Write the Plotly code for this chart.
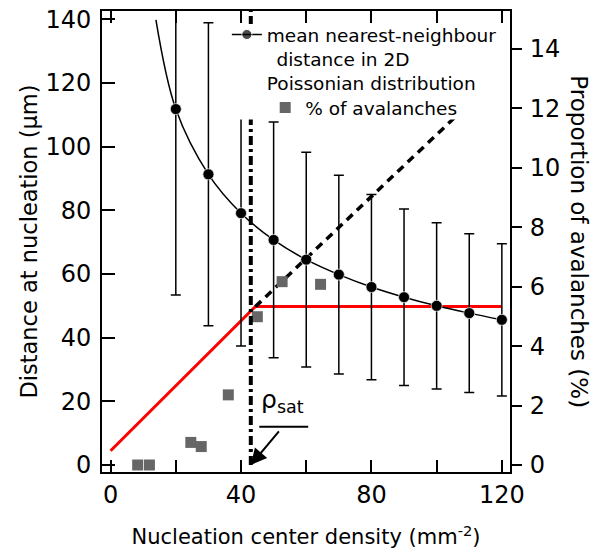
import plotly.graph_objects as go

# Mean nearest-neighbour distance (2D Poisson) at each nucleation density
density = [20, 30, 40, 50, 60, 70, 80, 90, 100, 110, 120]
nn_distance = [111.8, 91.3, 79.1, 70.7, 64.5, 59.8, 55.9, 52.7, 50.0, 47.7, 45.6]
nn_spread = [58.4, 47.6, 41.7, 37.0, 33.7, 31.2, 29.1, 27.7, 26.1, 24.9, 23.9]

# Smooth curve through the points, starting just below the top of the axis
curve_density = [13.9] + density
curve_distance = [139.8] + nn_distance

# Measured proportion of avalanches (%)
avalanche_density = [8.3, 11.9, 24.6, 27.8, 36.1, 45.0, 52.6, 64.4]
avalanche_percent = [0.0, 0.0, 0.76, 0.62, 2.36, 4.99, 6.17, 6.08]

# Saturation model (red) and its linear extrapolation (dashed)
model_density = [0, 44.4, 120]
model_percent = [0.48, 5.33, 5.33]
trend_density = [44.4, 120]
trend_percent = [5.33, 13.2]

rho_sat = 43.0

x_ticks = [0, 20, 40, 60, 80, 100, 120]
x_labels = ["0", "", "40", "", "80", "", "120"]
dist_ticks = [0, 20, 40, 60, 80, 100, 120, 140]
pct_ticks = [0, 2, 4, 6, 8, 10, 12, 14]

dist_range = [-2.2, 142.6]
pct_range = [v * 15 / 140 for v in dist_range]

FONT = "DejaVu Sans"

fig = go.Figure()

# Percent axis traces
fig.add_trace(go.Scatter(
    x=model_density, y=model_percent, yaxis="y", mode="lines",
    line=dict(color="#ff0000", width=3), showlegend=False, hoverinfo="skip"))
fig.add_trace(go.Scatter(
    x=trend_density, y=trend_percent, yaxis="y", mode="lines",
    line=dict(color="black", width=3.5, dash="8px,6px"), showlegend=False,
    hoverinfo="skip"))
fig.add_trace(go.Scatter(
    x=avalanche_density, y=avalanche_percent, yaxis="y", mode="markers",
    marker=dict(symbol="square", size=11, color="#666666"),
    name="% of avalanches", legend="legend2"))

# Saturation density: vertical dash-dot line
fig.add_trace(go.Scatter(
    x=[rho_sat, rho_sat], y=[0, dist_range[1]], yaxis="y2", mode="lines",
    line=dict(color="black", width=4, dash="9px,4px,3px,4px"),
    showlegend=False, hoverinfo="skip"))

# Distance axis traces
fig.add_trace(go.Scatter(
    x=density, y=nn_distance, yaxis="y2", mode="markers",
    marker=dict(size=11, color="black"),
    error_y=dict(type="data", array=nn_spread, color="black", thickness=1.5, width=5),
    showlegend=False))
fig.add_trace(go.Scatter(
    x=curve_density, y=curve_distance, yaxis="y2", mode="lines+markers",
    line=dict(color="black", width=1.5, shape="spline"),
    marker=dict(size=[0] + [11] * len(density), color="black"),
    name="mean nearest-neighbour<br>\u00a0\u2009distance in 2D<br>Poissonian distribution",
    legend="legend"))

axis_common = dict(showgrid=False, zeroline=False, showline=True, linecolor="black",
                   linewidth=2, tickcolor="black", tickwidth=1.5, automargin=False,
                   tickfont=dict(family=FONT, size=24, color="black"))

fig.update_layout(
    width=595, height=552,
    margin=dict(l=102, r=85, t=11, b=80),
    paper_bgcolor="white", plot_bgcolor="white",
    font=dict(family=FONT, color="black"),
    xaxis=dict(range=[-2.64, 122.5], tickvals=x_ticks, ticktext=x_labels,
               ticks="inside", ticklen=12, mirror="ticks", ticklabelstandoff=0,
               title=dict(text="Nucleation center density (mm<sup>-2</sup>)",
                          font=dict(family=FONT, size=21), standoff=22),
               **axis_common),
    yaxis=dict(range=pct_range, tickvals=pct_ticks, side="right",
               ticks="outside", ticklen=10, ticklabelstandoff=3, **axis_common),
    yaxis2=dict(range=dist_range, tickvals=dist_ticks, side="left", overlaying="y",
                ticks="inside", ticklen=13, ticklabelstandoff=4,
                title=dict(text="Distance at nucleation (µm)",
                           font=dict(family=FONT, size=22.5), standoff=2),
                **axis_common),
    legend=dict(x=0.306, y=0.9892, xanchor="left", yanchor="top",
                bgcolor="rgba(0,0,0,0)", borderwidth=0, valign="top",
                font=dict(family=FONT, size=18.5, color="black")),
    legend2=dict(x=0.40, y=0.8308, xanchor="left", yanchor="top",
                 bgcolor="rgba(0,0,0,0)", borderwidth=0,
                 font=dict(family=FONT, size=18.5, color="black")),
    shapes=[
        # white panel behind the legend
        dict(type="rect", xref="paper", yref="paper", x0=0.294, x1=0.99,
             y0=0.7646, y1=0.9718, layer="above", fillcolor="white",
             line=dict(width=0)),
        # underline of the rho_sat label
        dict(type="line", xref="x", yref="y2", x0=45.6, x1=60.6, y0=12.0, y1=12.0,
             layer="above", line=dict(color="black", width=2)),
    ],
    annotations=[
        dict(text="Proportion of avalanches (%)", xref="paper", yref="paper",
             x=1.205, y=0.499, textangle=90, showarrow=False,
             font=dict(family=FONT, size=23, color="black")),
        dict(text="ρ<sub>sat</sub>", xref="x", yref="y2", x=52.6, y=20.0,
             showarrow=False, font=dict(family=FONT, size=25, color="black")),
        dict(text="", xref="x", yref="y2", x=rho_sat, y=0,
             axref="x", ayref="y2", ax=52.0, ay=11.0, showarrow=True,
             arrowhead=2, arrowsize=1.6, arrowwidth=2, arrowcolor="black",
             standoff=0),
    ],
)

fig.write_html("out.html")
